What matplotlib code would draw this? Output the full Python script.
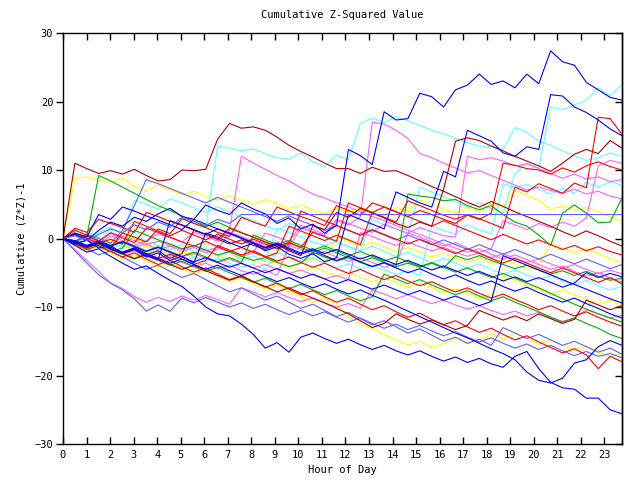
import numpy as np
import matplotlib
matplotlib.use("Agg")
import matplotlib.pyplot as plt

# colours used by the original chart
BLUE = "#0000ff"
LBLUE = "#6060ff"
RED = "#ff0000"
DRED = "#b00000"
GREEN = "#00b000"
MAGENTA = "#ff60ff"
CYAN = "#60ffff"
YELLOW = "#ffff00"

# 48 readings per day (every ~half hour, 0 .. 23.75)
hours = np.linspace(0, 23.75, 48)

blue_1 = [0, 0.6, -0.3, 1.2, 2.4, 1.8, 3.1, 2.5,
          3.6, 4.4, 3.2, 2.8, 4.9, 4.1, 3.5, 5.2,
          4.3, 3.6, 2.2, 3.0, 1.4, 2.1, 0.8, 1.9,
          13.0, 12.1, 10.8, 18.5, 17.3, 17.5, 21.2, 20.7,
          19.2, 21.7, 22.4, 24.0, 22.5, 23.0, 22.0, 24.0,
          22.6, 27.4, 25.8, 25.3, 22.8, 21.7, 20.6, 20.2]
cyan_2 = [0, -0.5, 0.8, 0.2, -0.6, -1.2, 0.4, -0.3,
          -1.0, -1.6, -0.8, -2.0, -1.5, -2.6, -2.0, -3.1,
          -2.5, -3.4, 1.5, 0.9, 0.2, -0.5, -1.0, -0.4,
          -1.2, -1.8, 2.8, 2.0, 1.4, 0.6, 7.5, 6.8,
          6.1, 5.4, 4.6, 5.2, 4.4, 3.7, 9.5, 11.0,
          10.3, 19.2, 18.8, 19.5, 20.2, 22.0, 20.8, 22.5]
blue_2 = [0, -0.8, -0.2, -1.4, -1.0, -2.2, -1.6, -2.7,
          -2.1, -3.2, -2.6, -3.6, 0.8, 0.2, -0.6, -1.3,
          -0.7, -1.8, -1.2, -2.3, -2.9, -2.2, -3.4, -2.8,
          3.5, 2.8, 2.1, 1.4, 6.8, 6.0, 5.2, 4.6,
          9.8, 9.0, 15.8, 15.0, 14.2, 12.5, 12.0, 13.4,
          13.0, 21.0, 20.8, 19.2, 18.4, 17.3, 16.0, 15.0]
red_top = [0, 1.2, 0.5, -0.4, 0.8, 0.1, -0.6, 1.5,
           0.9, 0.2, -0.5, -1.1, -0.4, -1.2, -1.9, -1.3,
           -2.0, -2.7, -2.1, 1.8, 1.1, 0.4, -0.3, 0.5,
           -0.2, -0.9, 3.8, 3.1, 2.4, 5.5, 4.8, 4.1,
           3.4, 2.8, 3.5, 2.9, 2.2, 1.5, 7.5, 6.8,
           8.0, 7.3, 6.6, 8.1, 7.4, 17.7, 17.5, 15.2]
dred_top = [0, -0.7, -1.3, -0.6, -1.5, -2.1, -1.4, -2.4,
            -1.8, -2.9, -2.2, 1.2, 0.6, -0.1, -0.8, -0.2,
            -1.0, -1.6, -0.9, -1.8, -2.5, 1.9, 1.3, 3.8,
            3.1, 4.4, 3.7, 3.0, 2.2, 1.6, 2.4, 1.8,
            7.2, 14.2, 14.7, 14.3, 13.5, 12.8, 12.0, 11.3,
            10.6, 9.8, 11.0, 12.3, 13.0, 12.4, 14.3, 13.2]
cyan_1 = [0, 0.5, -0.2, 0.9, 1.6, 0.8, 2.0, 1.2,
          2.5, 1.8, 3.0, 2.2, 1.5, 13.5, 13.2, 12.8,
          13.1, 12.4, 11.8, 11.6, 12.5, 11.2, 10.5, 12.2,
          11.5, 16.8, 17.6, 16.9, 17.8, 17.2, 16.5, 15.8,
          15.3, 14.6, 14.0, 13.5, 13.4, 13.0, 16.2, 15.5,
          14.2, 13.6, 12.8, 12.1, 11.4, 11.8, 12.5, 12.0]
red_3 = [0, -0.6, -1.1, -0.5, -1.3, 0.8, 0.2, -0.5,
         1.4, 0.7, 2.9, 2.2, 1.6, 0.9, 0.3, 3.1,
         2.4, 1.8, 4.6, 3.9, 3.2, 2.6, 1.9, 4.8,
         4.1, 3.4, 5.2, 4.6, 3.9, 3.2, 4.1, 3.5,
         2.8, 2.2, 3.4, 2.8, 3.7, 11.0, 10.7, 10.2,
         10.0, 9.4, 10.3, 9.7, 10.6, 11.2, 10.5, 10.0]
magenta_3 = [0, 0.7, 0.1, -0.5, 0.9, 0.3, -0.3, -0.9,
             -0.4, -1.0, -1.6, -1.1, -1.8, -1.3, -2.0, -2.6,
             -2.1, 0.8, 0.2, -0.4, 1.9, 1.3, 0.6, 2.8,
             2.2, 1.5, 0.9, 2.1, 1.4, 0.8, 1.6, 1.0,
             0.4, 0.2, 12.0, 11.5, 11.8, 11.3, 10.6, 10.9,
             10.2, 9.5, 8.8, 9.4, 8.7, 9.0, 8.3, 8.6]
magenta_4 = [0, -0.5, -1.2, -0.8, -1.6, -2.3, -1.8, -2.6,
             -3.2, -2.7, -3.5, -4.1, -3.6, -4.4, -3.9, -4.7,
             -5.2, -4.6, -5.4, -1.0, -1.6, -2.3, -1.9, -2.7,
             -3.3, -2.8, -3.5, -4.2, -3.7, 0.8, 0.2, -0.5,
             -1.1, -0.6, -1.4, -2.0, -1.5, 2.6, 2.0, 1.3,
             2.2, 1.6, 2.4, 1.8, 3.0, 10.6, 11.4, 11.0]
green_1 = [0, -0.8, -0.3, -1.2, -1.9, -1.4, 1.2, 0.5,
           -0.2, -0.8, -1.5, -1.0, -1.7, -2.4, -1.9, -2.6,
           -3.2, -2.8, -3.5, -4.1, -3.6, -2.0, -2.7, -3.3,
           -2.8, -3.5, -4.1, -3.6, -4.2, 6.5, 6.2, 6.0,
           5.5, 5.7, 4.8, 4.2, 4.8, 3.5, 2.4, 1.8,
           0.5, -1.0, 3.7, 4.9, 3.7, 2.3, 2.4, 5.9]
flat_blue = [0, 0.4, -0.3, 0.6, 1.4, 0.8, 2.0, 1.3,
             2.4, 1.7, 3.1, 2.5, 1.9, 2.8, 2.2, 3.5,
             3.5, 3.5, 3.5, 3.5, 3.5, 3.5, 3.5, 3.5,
             3.5, 3.5, 3.5, 3.5, 3.5, 3.5, 3.5, 3.5,
             3.5, 3.5, 3.5, 3.5, 3.5, 3.5, 3.5, 3.5,
             3.5, 3.5, 3.5, 3.5, 3.5, 3.5, 3.5, 3.5]
yellow_1 = [0, 8.8, 9.0, 8.5, 8.2, 8.9, 7.6, 7.0,
            7.8, 7.1, 6.4, 6.9, 6.2, 5.6, 6.3, 5.6,
            5.0, 5.7, 5.1, 4.4, 4.9, 4.2, 3.6, 4.4,
            3.8, 4.5, 3.9, 3.3, 4.6, 4.0, 5.6, 5.0,
            4.3, 3.7, 4.5, 3.9, 5.2, 4.6, 7.0, 6.3,
            5.6, 4.2, 4.8, 4.1, 4.6, 3.9, 3.2, 2.5]
magenta_1 = [0, -0.6, 0.3, -0.4, -1.1, -0.5, -1.3, -0.8,
             -1.6, -1.1, -1.9, -1.3, -2.1, -1.6, 0.9, 0.3,
             -0.4, -1.1, -0.5, -1.3, 1.6, 1.0, 0.4, 2.6,
             2.0, 3.2, 17.0, 16.7, 15.8, 14.6, 12.4, 11.8,
             11.0, 10.3, 9.6, 9.9, 9.2, 8.5, 7.8, 7.1,
             7.5, 7.0, 6.6, 7.2, 6.5, 6.9, 6.2, 5.8]
magenta_2 = [0, 0.5, -0.2, -0.8, 0.4, -0.3, -1.0, -0.4,
             0.7, 0.1, -0.5, 0.9, 0.3, -0.4, 1.2, 12.0,
             11.0, 10.1, 9.2, 8.4, 7.4, 6.5, 5.9, 5.2,
             4.6, 3.9, 3.2, 2.6, 1.9, 1.2, 0.6, -0.1,
             -0.8, -1.4, -2.0, -1.5, -2.3, -3.0, -2.4, -3.1,
             -3.8, -4.5, -4.0, -4.8, -5.5, -5.0, -5.8, -6.4]
dred_1 = [0, 11.0, 10.2, 9.5, 9.9, 9.4, 10.1, 9.2,
          8.4, 8.6, 10.0, 9.9, 10.1, 14.5, 16.8, 16.1,
          16.3, 15.8, 14.8, 13.6, 12.7, 11.9, 11.0, 10.2,
          10.2, 9.5, 10.4, 9.8, 9.9, 9.2, 8.4, 7.6,
          6.9, 6.1, 5.3, 4.6, 5.4, 4.7, 3.9, 3.2,
          2.5, 1.8, 1.0, 0.3, 1.1, 0.4, -0.4, -1.1]
cyan_4 = [0, -0.7, 0.2, -0.5, 1.4, 0.8, 5.6, 5.0,
          4.3, 5.8, 5.2, 4.5, 3.8, 4.6, 3.9, 3.2,
          2.6, 1.9, 1.2, 2.2, 1.5, 0.8, 0.1, -0.5,
          -1.2, -1.8, -1.1, -1.9, -2.6, -2.0, -2.8, -3.5,
          -2.9, -3.6, -4.3, -3.7, -4.5, -5.2, -4.6, -5.3,
          -6.0, -5.4, -6.2, -6.8, -6.1, -6.9, -7.5, -7.0]
cyan_5 = [0, -0.4, -1.0, -0.6, -1.4, -0.8, -1.6, -2.2,
          -1.7, -2.5, -3.1, -2.6, -3.4, -2.9, -3.6, -4.2,
          -3.8, -4.5, -2.0, -2.7, -3.3, -2.8, -3.6, -4.3,
          -3.7, -4.4, -3.9, -4.6, -5.2, -4.7, -5.4, 1.8,
          1.2, 0.6, 2.0, 1.3, 0.7, 8.0, 7.5, 7.9,
          7.2, 6.5, 7.3, 6.6, 8.2, 7.5, 8.3, 7.8]
red_4 = [0, 1.5, 0.9, 2.8, 2.2, 1.6, 0.9, 3.8,
         3.2, 2.5, 1.9, 1.2, 0.6, -0.1, 1.5, 0.8,
         0.2, -0.5, -1.1, -0.6, -1.3, 0.9, 0.3, -0.4,
         5.2, 4.5, 3.8, 4.6, 3.9, 3.2, 2.5, 1.8,
         2.6, 1.9, 1.2, 0.5, -0.2, 0.6, -0.1, -0.8,
         -0.2, -0.9, -1.6, -1.0, -1.8, -1.2, -1.9, -2.4]
green_2 = [0, 0.8, 0.3, 9.2, 8.4, 7.5, 6.6, 5.7,
           4.8, 4.1, 3.3, 2.5, 1.7, 2.4, 1.6, 0.9,
           0.2, -0.5, -1.2, -0.6, -1.3, -2.0, -1.4, -2.1,
           -2.8, -3.4, -2.8, -3.5, -4.1, -3.6, -4.2, -3.6,
           -4.3, -2.5, -3.1, -2.5, -3.2, -3.8, -4.4, -3.9,
           -4.6, -5.2, -4.7, -5.4, -4.8, -5.5, -6.1, -5.8]
blue_3 = [0, -0.5, -1.2, -0.7, -1.5, -2.2, -1.6, -2.5,
          -3.1, 2.6, 2.0, 1.3, 0.6, 1.4, 0.7, 0.0,
          -0.7, -1.4, -0.8, -1.6, -2.3, -1.7, -2.5, -3.2,
          -2.6, -3.4, -4.1, -3.5, -4.3, -5.0, -4.4, -5.2,
          -5.9, -5.3, -6.1, -6.8, -6.2, -7.0, -7.7, -7.1,
          -7.9, -8.6, -9.3, -8.7, -9.5, -10.2, -11.0, -11.6]
lblue_1 = [0, -1.8, -3.6, -5.3, -6.5, -7.5, -8.8, -10.6,
           -9.7, -10.6, -8.7, -9.4, -8.6, -9.3, -10.0, -9.4,
           -10.2, -9.6, -10.4, -11.1, -10.5, -11.3, -10.7, -11.5,
           -12.2, -11.6, -12.4, -13.1, -12.5, -13.3, -12.7, -13.5,
           -14.2, -13.6, -14.4, -15.1, -14.5, -15.3, -16.0, -15.4,
           -16.2, -15.6, -16.4, -17.1, -16.5, -17.2, -16.8, -17.4]
magenta_5 = [0, -1.6, -3.2, -4.8, -6.5, -7.3, -8.5, -9.3,
             -8.6, -9.2, -8.4, -9.0, -8.3, -8.9, -9.6, -7.2,
             -7.8, -8.5, -7.9, -8.6, -9.2, -8.7, -9.4, -10.0,
             -9.5, -10.2, -7.5, -8.1, -8.8, -8.2, -8.9, -9.5,
             -9.0, -9.7, -10.3, -9.8, -10.5, -11.1, -10.6, -11.3,
             -10.8, -11.5, -12.1, -11.6, -10.4, -11.0, -11.6, -11.2]
magenta_6 = [0, -0.5, 0.4, -0.3, -1.0, -0.4, -1.2, -1.9,
             -1.3, -2.1, -2.7, -2.2, -2.9, -3.5, -3.0, -3.7,
             -4.3, -3.8, -4.5, -5.1, -4.6, -5.3, -5.9, -5.4,
             -6.0, 0.9, 0.3, -0.4, -1.0, -0.5, -1.2, -1.8,
             -1.3, -2.0, -2.6, -2.1, -2.8, -2.2, -2.9, -3.5,
             -3.0, -3.7, -4.3, -3.8, -4.5, -5.1, -4.6, -5.2]
yellow_2 = [0, -0.6, -1.3, -0.7, -1.5, 0.6, 0.0, -0.7,
            -1.4, -0.8, -1.6, -2.3, -1.7, -2.4, -3.1, -2.5,
            -3.2, -3.9, -3.3, -4.0, -4.7, -4.1, -4.8, -5.5,
            -4.9, -5.6, -6.3, -5.7, -6.4, -7.1, -6.5, -7.2,
            -7.9, -7.3, -8.0, -8.7, -8.1, -5.5, -6.1, -6.8,
            -7.4, -8.1, -7.5, -8.2, -8.9, -9.5, -9.0, -9.7]
yellow_3 = [0, -0.9, -1.8, -1.2, -2.2, -3.0, -2.4, -3.3,
            -4.1, -3.5, -4.4, -5.2, -4.6, -5.5, -6.3, -5.7,
            -6.6, -7.4, -6.8, -7.7, -8.5, -9.3, -8.7, -9.6,
            -11.5, -12.4, -13.2, -14.0, -14.8, -15.5, -15.0, -15.9,
            -15.3, -14.6, -15.4, -14.8, -13.9, -14.7, -13.8, -14.6,
            -15.4, -14.8, -15.6, -16.3, -15.7, -16.5, -17.2, -16.8]
yellow_4 = [0, 0.5, -0.2, -0.9, -0.3, -1.0, -1.7, -1.1,
            -1.8, -2.5, -1.9, -2.6, -0.5, -1.2, -1.9, -1.3,
            -2.0, -2.7, -2.1, -2.8, -3.5, -2.9, -3.6, 0.2,
            -0.4, -1.1, -0.5, -1.2, -1.9, -1.3, -2.0, -2.7,
            -2.1, -2.8, -3.5, -2.9, -3.6, -3.0, -3.7, -4.4,
            -3.8, -0.8, -1.4, -2.1, -1.5, -2.2, -2.9, -3.5]
red_5 = [0, -0.4, -1.1, -0.5, -1.3, -2.0, -1.4, -2.2,
         -2.9, -2.3, -3.0, -3.8, -3.2, -1.0, -1.7, -2.4,
         -1.8, -2.6, -3.3, -2.7, -3.5, -4.2, -3.6, -4.4,
         -5.1, -4.5, -5.3, -6.0, -5.4, -6.2, -6.9, -6.3,
         -7.1, -7.8, -7.2, -8.0, -8.7, -8.1, -8.9, -9.6,
         -10.4, -9.8, -10.6, -11.3, -10.7, -11.5, -12.2, -12.8]
green_3 = [0, -0.7, -1.4, -0.8, -1.6, -2.3, -3.0, -2.4,
           -3.2, -3.9, -3.3, -4.1, -4.8, -4.2, -5.0, -5.7,
           -6.4, -5.8, -6.6, -7.3, -6.7, -7.5, -8.2, -7.6,
           -8.4, -9.1, -8.5, -5.2, -5.9, -6.6, -6.0, -6.8,
           -7.5, -8.2, -7.6, -8.4, -9.1, -8.5, -9.3, -10.0,
           -10.7, -11.5, -12.2, -11.6, -12.4, -13.1, -14.0, -14.6]
green_4 = [0, -0.5, 0.4, -0.3, -1.0, -0.4, -1.1, -1.8,
           -1.2, -1.9, -2.6, -2.0, -2.7, -3.4, -2.8, -3.5,
           0.5, -0.2, -0.9, -0.3, -1.0, -1.7, -1.1, -1.8,
           -2.5, -1.9, -2.6, -3.3, -2.7, -3.4, -4.1, -3.5,
           -4.2, -4.9, -4.3, -5.0, -5.7, -5.1, -5.8, -6.5,
           -7.2, -8.0, -8.8, -9.6, -10.3, -11.0, -11.6, -12.2]
blue_4 = [0, -1.0, -2.0, -1.5, -2.6, -3.6, -4.5, -4.0,
          -5.1, -6.1, -7.0, -8.4, -10.0, -11.0, -11.3, -12.5,
          -14.0, -16.0, -15.2, -16.6, -14.4, -13.8, -14.6, -15.3,
          -14.7, -15.5, -16.2, -15.6, -16.4, -17.0, -16.4, -17.2,
          -17.9, -17.3, -18.1, -17.5, -18.3, -18.8, -17.2, -16.5,
          -19.0, -21.0, -21.8, -22.0, -23.3, -23.3, -25.0, -25.6]
blue_5 = [0, -0.6, -1.2, -0.6, -1.3, -2.0, -1.4, -2.2,
          -2.9, -3.6, -3.0, -3.8, -4.5, -3.9, -4.7, -5.4,
          -4.8, -5.6, -6.3, -5.7, -6.5, -7.2, -6.6, -7.4,
          -8.1, -7.5, -8.3, -9.0, -9.8, -10.6, -11.4, -12.2,
          -13.0, -13.8, -14.5, -15.3, -16.1, -16.8, -17.7, -19.5,
          -20.7, -21.1, -20.4, -18.2, -17.7, -15.8, -14.9, -15.6]
blue_6 = [0, 0.8, 0.2, 3.5, 2.8, 4.6, 4.0, 3.3,
          2.7, 2.0, 1.3, 2.8, 2.1, 1.4, 0.8, 0.1,
          -0.6, -1.3, -0.7, -1.4, -2.1, -1.5, -2.2, -1.6,
          -2.3, -3.0, -2.4, -3.1, -3.8, -3.2, -3.9, -4.6,
          -4.0, -4.7, -5.4, -4.8, -5.5, -6.2, -5.6, -6.3,
          -5.7, -6.4, -7.1, -6.5, -5.0, -5.7, -5.1, -5.6]
blue_7 = [0, -0.3, -1.0, -0.4, -1.1, -0.5, -1.2, -1.9,
          -1.3, -2.0, -2.7, -3.4, -2.8, -3.5, -4.2, -3.6,
          -4.3, -5.0, -4.4, -5.1, -5.8, -5.2, -5.9, -6.6,
          -6.0, -6.7, -7.4, -6.8, -7.5, -8.2, -7.6, -8.3,
          -9.0, -8.4, -9.1, -9.8, -9.2, -2.5, -3.2, -3.9,
          -4.6, -5.3, -6.0, -6.7, -7.4, -8.1, -8.8, -9.4]
dred_2 = [0, -0.6, -1.3, -0.7, -1.5, -2.2, -2.9, -2.3,
          -3.1, -3.8, -4.5, -3.9, -4.7, -5.4, -6.1, -5.5,
          -6.3, -7.0, -7.8, -7.2, -8.0, -8.7, -9.4, -10.2,
          -11.0, -12.0, -13.0, -12.4, -11.0, -11.8, -12.5, -11.9,
          -12.6, -13.3, -12.7, -10.5, -11.2, -11.9, -11.3, -12.0,
          -11.0, -11.7, -12.4, -11.8, -9.0, -9.7, -10.4, -9.8]
red_6 = [0, -0.8, -1.6, -1.0, -1.9, -2.7, -2.1, -3.0,
         -3.8, -3.2, -4.1, -4.9, -4.3, -5.2, -6.0, -5.4,
         -6.3, -7.1, -6.5, -7.4, -8.2, -7.6, -8.5, -9.3,
         -8.7, -9.6, -10.4, -9.8, -10.7, -11.5, -10.9, -11.8,
         -12.6, -12.0, -12.9, -13.7, -13.1, -14.0, -14.8, -14.2,
         -15.1, -15.9, -16.7, -16.1, -17.0, -19.0, -17.2, -18.0]
lblue_2 = [0, -0.6, -1.5, -2.4, -1.8, -2.7, -3.6, -4.5,
           -3.9, -4.8, -5.7, -5.1, -6.0, -6.9, -7.8, -7.2,
           -8.1, -9.0, -8.4, -9.3, -10.2, -9.6, -10.5, -11.4,
           -10.8, -11.7, -12.6, -12.0, -12.9, -13.8, -13.2, -14.1,
           -15.0, -14.4, -15.3, -14.7, -15.6, -13.0, -13.8, -14.6,
           -14.0, -14.8, -15.6, -15.0, -15.8, -16.6, -16.0, -16.9]
lblue_3 = [0, -0.4, 0.6, 0.0, -0.7, 1.2, 4.8, 8.6,
           8.0, 7.3, 6.6, 5.9, 5.2, 6.0, 5.3, 4.6,
           3.9, 3.2, 2.5, 3.3, 2.6, 1.9, 1.2, 1.9,
           1.2, 0.5, 1.2, 0.5, -0.2, 0.5, -0.2, -0.9,
           -0.2, -0.9, -1.6, -0.9, -1.6, -2.3, -1.6, -2.3,
           -3.0, -2.3, -3.0, -3.7, -3.0, -3.7, -4.4, -3.8]
red_7 = [0, 0.6, 0.0, -0.7, -0.1, -0.8, 2.5, 1.8,
         1.1, 0.4, 1.2, 0.5, -0.2, 0.6, -0.1, -0.8,
         -0.1, -0.8, -1.5, -0.8, 4.0, 3.3, 2.6, 1.9,
         1.2, 0.5, 1.3, 0.6, -0.1, -0.8, -0.1, -0.8,
         -1.5, -2.2, -1.5, -2.2, -2.9, -3.6, -2.9, -3.6,
         -4.3, -5.0, -4.3, -5.0, -5.7, -6.4, -5.7, -6.6]

series = [
    (yellow_1, YELLOW), (yellow_2, YELLOW), (yellow_3, YELLOW), (yellow_4, YELLOW),
    (cyan_1, CYAN), (cyan_2, CYAN), (cyan_4, CYAN), (cyan_5, CYAN),
    (magenta_1, MAGENTA), (magenta_2, MAGENTA), (magenta_3, MAGENTA),
    (magenta_4, MAGENTA), (magenta_5, MAGENTA), (magenta_6, MAGENTA),
    (lblue_1, LBLUE), (lblue_2, LBLUE), (lblue_3, LBLUE),
    (green_1, GREEN), (green_2, GREEN), (green_3, GREEN), (green_4, GREEN),
    (red_top, RED), (red_3, RED), (red_4, RED), (red_5, RED), (red_6, RED), (red_7, RED),
    (dred_top, DRED), (dred_1, DRED), (dred_2, DRED),
    (blue_1, BLUE), (blue_2, BLUE), (blue_3, BLUE), (blue_4, BLUE),
    (blue_5, BLUE), (blue_6, BLUE), (blue_7, BLUE),
    (flat_blue, LBLUE),
]

mono = "DejaVu Sans Mono"
fig = plt.figure(figsize=(6.4, 4.8), dpi=100)
ax = fig.add_axes([63 / 640, 36 / 480, 559 / 640, 411 / 480])

for vals, col in series:
    ax.plot(hours, vals, color=col, linewidth=0.8)

ax.set_xlim(0, 23.75)
ax.set_ylim(-30, 30)
ax.set_xticks(range(24))
ax.set_yticks(range(-30, 31, 10))
ax.tick_params(axis="x", direction="in", top=True, length=5, width=1,
               labelsize=7.5, pad=4)
ax.tick_params(axis="y", direction="out", length=5, width=1,
               labelsize=7.5, pad=2)
for lab in ax.get_xticklabels() + ax.get_yticklabels():
    lab.set_family(mono)
for sp in ax.spines.values():
    sp.set_linewidth(1)

sec = ax.secondary_yaxis("right")
sec.set_yticks(range(-30, 31, 10))
sec.tick_params(direction="in", length=5, width=1, labelright=False)
sec.spines["right"].set_linewidth(1)

ax.set_title("Cumulative Z-Squared Value", fontsize=7.5, family=mono, pad=11)
ax.set_xlabel("Hour of Day", fontsize=7.5, family=mono, labelpad=4)
ax.set_ylabel("Cumulative (Z*Z)-1", fontsize=7.5, family=mono, labelpad=6)

fig.savefig("out.png", dpi=100)
